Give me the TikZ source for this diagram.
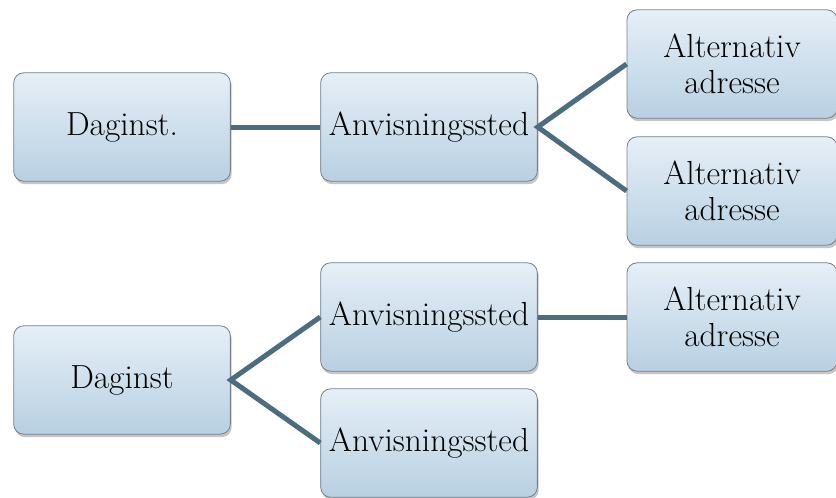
\documentclass[tikz,border=0pt]{standalone}
\usepackage{tikz}
\usetikzlibrary{shadows}
\definecolor{boksTop}{HTML}{E6EFF7}
\definecolor{boksBund}{HTML}{B8D0E2}
\definecolor{boksKant}{HTML}{76818C}
\definecolor{linjeFarve}{HTML}{4C6C80}

\begin{document}
\begin{tikzpicture}[x=0.03cm, y=-0.03cm,
	boks/.style={draw=boksKant, line width=0.7pt, rounded corners=0.3cm,
		top color=boksTop, bottom color=boksBund,
		minimum width=6.5cm, minimum height=3.25cm, align=center,
		font=\fontsize{28.5}{31}\selectfont,
		drop shadow={shadow xshift=0.4mm, shadow yshift=-0.9mm, opacity=0.45}},
	linje/.style={draw=linjeFarve, line width=0.15cm}]
	\useasboundingbox (0,0) rectangle (836,497);
	
	% Draw boxes, first group
	\node[boks] (dag1) at (122,127) {Daginst.};
	\node[boks] (anv1) at (429,127) {Anvisningssted};
	\node[boks, minimum width=6.3cm] (alt1) at (732,64) {Alternativ\\adresse};
	\node[boks, minimum width=6.3cm] (alt2) at (732,191) {Alternativ\\adresse};
	
	% Draw boxes, second group
	\node[boks] (dag2) at (122,380) {Daginst};
	\node[boks] (anv2) at (429,317) {Anvisningssted};
	\node[boks] (anv3) at (429,443) {Anvisningssted};
	\node[boks, minimum width=6.3cm] (alt3) at (732,317) {Alternativ\\adresse};
	
	% Draw connectors
	\draw[linje] (dag1.east) -- (anv1.west);
	\draw[linje] (alt1.west) -- (anv1.east) -- (alt2.west);
	\draw[linje] (anv2.west) -- (dag2.east) -- (anv3.west);
	\draw[linje] (anv2.east) -- (alt3.west);
\end{tikzpicture}
\end{document}
